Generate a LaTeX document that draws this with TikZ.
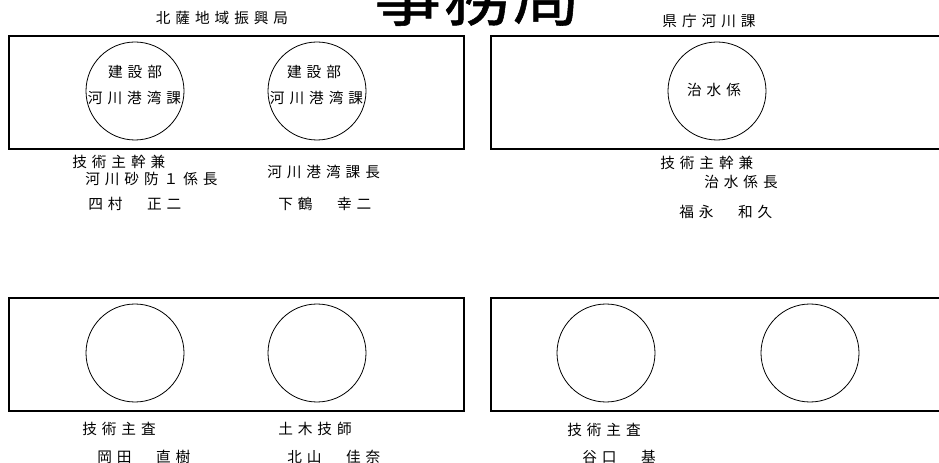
\documentclass[tikz,border=0pt]{standalone}
\usepackage{fontspec}
\newfontfamily\jp{Noto Sans CJK JP}
\newfontfamily\jpt[FakeBold=0.8]{Noto Sans CJK JP}
\makeatletter
\newlength\lsp
\setlength\lsp{3.7pt}
\newcommand\spc[1]{\begingroup\def\mysep{}\@tfor\ch:=#1\do{\mysep\ch\def\mysep{\kern\lsp}}\endgroup}
\makeatother
\begin{document}
\begin{tikzpicture}[x=0.75pt,y=-0.75pt,
  frame/.style={draw, line width=0.9pt},
  ring/.style={draw, circle, line width=0.6pt, minimum size=73.5pt, inner sep=0pt},
  lab/.style={font=\jp\fontsize{11}{13}\selectfont, inner sep=0pt},
  labw/.style={lab, anchor=west},
  title/.style={font=\jpt\fontsize{50}{52}\selectfont, inner sep=0pt}]
\useasboundingbox (0,0) rectangle (939,463);
\clip (0,0) rectangle (939,463);
% title
\node[title] (ttl) at (477,-5) {事\kern2pt 務\kern2pt 局};
% boxes
\draw[frame] (9,36) rectangle (464,149);
\draw[frame] (491,36) rectangle (945,149);
\draw[frame] (9,298) rectangle (464,411);
\draw[frame] (491,298) rectangle (945,411);
% circles
\node[ring] (c1) at (135,91) {};
\node[ring] (c2) at (317,91) {};
\node[ring] (c3) at (717,91) {};
\node[ring] (c4) at (135,353) {};
\node[ring] (c5) at (317,353) {};
\node[ring] (c6) at (606,353) {};
\node[ring] (c7) at (810,353) {};
% circle texts
\node[lab] (t1a) at (135,72) {\spc{建設部}};
\node[lab] (t1b) at (134.5,98) {\spc{河川港湾課}};
\node[lab] (t2a) at (314,72) {\spc{建設部}};
\node[lab] (t2b) at (316.5,98) {\spc{河川港湾課}};
\node[lab] (t3) at (714,90) {\spc{治水係}};
% headings
\node[lab] (h1) at (222,18) {\spc{北薩地域振興局}};
\node[lab] (h2) at (709,21) {\spc{県庁河川課}};
% labels top
\node[labw] (l1) at (72,162) {\spc{技術主幹兼}};
\node[labw] (l2) at (85,179) {\spc{河川砂防１係長}};
\node[labw] (l3) at (88,204) {\spc{四村　正二}};
\node[labw] (l4) at (267,172) {\spc{河川港湾課長}};
\node[labw] (l5) at (278,204) {\spc{下鶴　幸二}};
\node[labw] (l6) at (660,163) {\spc{技術主幹兼}};
\node[labw] (l7) at (704,182) {\spc{治水係長}};
\node[labw] (l8) at (679,212) {\spc{福永　和久}};
% labels bottom
\node[labw] (m1) at (82,429) {\spc{技術主査}};
\node[labw] (m2) at (97,457) {\spc{岡田　直樹}};
\node[labw] (m3) at (278,429) {\spc{土木技師}};
\node[labw] (m4) at (287,457) {\spc{北山　佳奈}};
\node[labw] (m5) at (567,430) {\spc{技術主査}};
\node[labw] (m6) at (582,457) {\spc{谷口　基}};
\end{tikzpicture}
\end{document}
